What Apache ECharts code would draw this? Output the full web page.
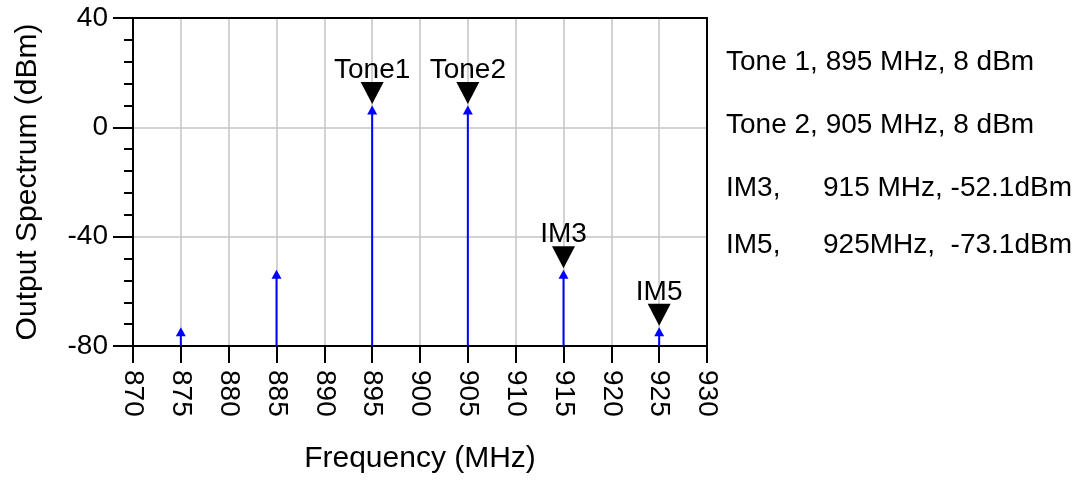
<!DOCTYPE html>
<html>
<head>
<meta charset="utf-8">
<script src="https://cdn.jsdelivr.net/npm/echarts@6/dist/echarts.min.js"></script>
<style>
html,body{margin:0;padding:0;background:#fff;}
#chart{width:1090px;height:482px;}
</style>
</head>
<body>
<div id="chart"></div>
<script>
// ---- data ----
const freqs = [875, 885, 895, 905, 915, 925];            // MHz
const levels = [-73.1, -52.1, 8, 8, -52.1, -73.1];        // dBm
const markerNames = ['Tone1', 'Tone2', 'IM3', 'IM5'];
const markerFreqs = [895, 905, 915, 925];
const markerLevels = [8, 8, -52.1, -73.1];
const noteLabels = ['Tone 1,', 'Tone 2,', 'IM3,', 'IM5,'];
const noteValues = ['895 MHz, 8 dBm', '905 MHz, 8 dBm', '915 MHz, -52.1dBm', '925MHz,  -73.1dBm'];
const xRange = [870, 930, 5];
const yRange = [-80, 40, 40];
const xTitle = 'Frequency (MHz)';
const yTitle = 'Output Spectrum (dBm)';

const FONT = '"Liberation Sans", Arial, sans-serif';
const chart = echarts.init(document.getElementById('chart'), null, {renderer: 'canvas'});

const stemData = freqs.map((f, i) => [f, levels[i]]);
const markerData = markerFreqs.map((f, i) => [f, markerLevels[i]]);

function renderStem(params, api) {
  const x = api.value(0), y = api.value(1);
  const base = api.coord([x, yRange[0]]);
  const tip = api.coord([x, y]);
  return {
    type: 'group',
    children: [
      {type: 'line', shape: {x1: base[0], y1: base[1], x2: tip[0], y2: tip[1] + 6},
       style: {stroke: '#0000ff', lineWidth: 2}},
      {type: 'polygon', shape: {points: [[tip[0], tip[1]], [tip[0] - 5, tip[1] + 9], [tip[0] + 5, tip[1] + 9]]},
       style: {fill: '#0000ff'}}
    ]
  };
}

function renderMarker(params, api) {
  const x = api.value(0), y = api.value(1);
  const name = markerNames[params.dataIndex];
  const tip = api.coord([x, y]);
  return {
    type: 'group',
    children: [
      {type: 'polygon', shape: {points: [[tip[0], tip[1] - 1.5], [tip[0] - 11.5, tip[1] - 23.5], [tip[0] + 11.5, tip[1] - 23.5]]},
       style: {fill: '#000'}},
      {type: 'text', x: tip[0], y: tip[1] - 35,
       style: {text: name, fill: '#000', font: '28px ' + FONT, align: 'center', verticalAlign: 'middle'}}
    ]
  };
}

const noteY = [62, 125, 188, 245];
const notes = [];
for (let i = 0; i < noteLabels.length; i++) {
  if (i < 2) {
    notes.push({type: 'text', x: 726, y: noteY[i],
      style: {text: noteLabels[i] + ' ' + noteValues[i], fill: '#000', font: '28px ' + FONT, verticalAlign: 'middle'}});
  } else {
    notes.push({type: 'text', x: 726, y: noteY[i],
      style: {text: noteLabels[i], fill: '#000', font: '28px ' + FONT, verticalAlign: 'middle'}});
    notes.push({type: 'text', x: 823, y: noteY[i],
      style: {text: noteValues[i], fill: '#000', font: '28px ' + FONT, verticalAlign: 'middle'}});
  }
}

const axisLineStyle = {color: '#000', width: 2};
const gridLineStyle = {color: '#c4c4c4', width: 1.5};

chart.setOption({
  backgroundColor: '#fff',
  animation: false,
  grid: {left: 133, top: 18, right: 383, bottom: 136, containLabel: false},
  xAxis: [{
    type: 'value', min: xRange[0], max: xRange[1], interval: xRange[2],
    name: xTitle, nameLocation: 'middle', nameGap: 98,
    nameTextStyle: {fontSize: 30, fontFamily: FONT, color: '#000'},
    axisLine: {show: true, onZero: false, lineStyle: axisLineStyle},
    axisTick: {show: true, inside: false, length: 17, lineStyle: axisLineStyle},
    axisLabel: {rotate: -90, margin: 24, fontSize: 28, fontFamily: FONT, color: '#000'},
    splitLine: {show: true, lineStyle: gridLineStyle}
  }, {
    type: 'value', position: 'top', min: xRange[0], max: xRange[1], interval: xRange[2],
    axisLine: {show: true, onZero: false, lineStyle: axisLineStyle},
    axisTick: {show: false}, axisLabel: {show: false}, splitLine: {show: false}
  }],
  yAxis: [{
    type: 'value', min: yRange[0], max: yRange[1], interval: yRange[2],
    name: yTitle, nameLocation: 'middle', nameGap: 90, nameRotate: 90,
    nameTextStyle: {fontSize: 30, fontFamily: FONT, color: '#000'},
    axisLine: {show: true, onZero: false, lineStyle: axisLineStyle},
    axisTick: {show: true, inside: false, length: 20, lineStyle: axisLineStyle},
    minorTick: {show: true, splitNumber: 5, length: 9, lineStyle: axisLineStyle},
    axisLabel: {margin: 25, fontSize: 28, fontFamily: FONT, color: '#000'},
    splitLine: {show: true, lineStyle: gridLineStyle}
  }, {
    type: 'value', position: 'right', min: yRange[0], max: yRange[1], interval: yRange[2],
    axisLine: {show: true, onZero: false, lineStyle: axisLineStyle},
    axisTick: {show: false}, axisLabel: {show: false}, splitLine: {show: false}
  }],
  graphic: notes,
  series: [{
    type: 'custom', name: 'spectrum', xAxisIndex: 0, yAxisIndex: 0,
    renderItem: renderStem, data: stemData, z: 3, clip: false
  }, {
    type: 'custom', name: 'markers', xAxisIndex: 0, yAxisIndex: 0,
    renderItem: renderMarker, data: markerData, z: 4, clip: false
  }]
});
</script>
</body>
</html>
